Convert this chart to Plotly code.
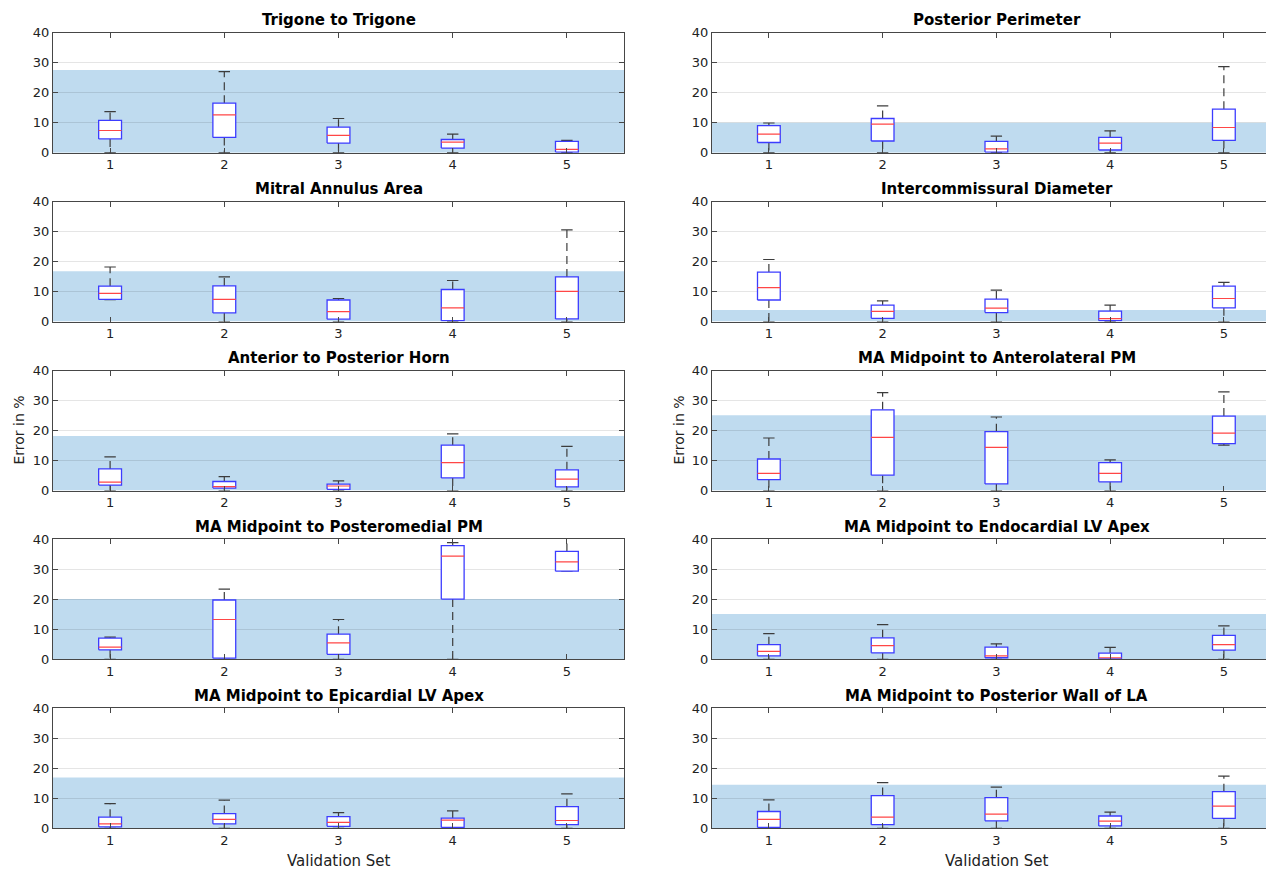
import plotly.graph_objects as go

# The page body has an 8px margin, so the figure is drawn 8px smaller and
# every reference pixel position is shifted by that offset.
OFF = 8
W, H = 1274 - OFF, 869 - OFF

sets = [1, 2, 3, 4, 5]
titles = [
    "Trigone to Trigone", "Posterior Perimeter",
    "Mitral Annulus Area", "Intercommissural Diameter",
    "Anterior to Posterior Horn", "MA Midpoint to Anterolateral PM",
    "MA Midpoint to Posteromedial PM", "MA Midpoint to Endocardial LV Apex",
    "MA Midpoint to Epicardial LV Apex", "MA Midpoint to Posterior Wall of LA",
]
band_top = [27.6, 10.0, 16.8, 3.9, 18.2, 25.1, 20.1, 15.1, 16.9, 14.5]
q1 = [
    [4.6, 5.1, 3.2, 1.55, 0.2],
    [3.4, 3.9, 0.2, 0.9, 4.1],
    [7.4, 2.9, 0.8, 0.3, 0.9],
    [7.2, 1.1, 3.0, 0.3, 4.6],
    [1.8, 0.8, 0.4, 4.2, 1.2],
    [3.6, 5.1, 2.2, 2.9, 15.6],
    [3.2, 0.4, 1.7, 20.1, 29.4],
    [1.2, 2.2, 0.55, 0.2, 3.1],
    [0.5, 1.5, 0.65, 0.3, 1.2],
    [0.3, 1.2, 2.5, 0.8, 3.3],
]
median = [
    [7.4, 12.6, 5.8, 3.5, 1.1],
    [6.2, 9.5, 1.3, 3.2, 8.4],
    [9.4, 7.4, 3.3, 4.6, 10.1],
    [11.3, 3.4, 4.5, 1.0, 7.7],
    [2.8, 1.3, 1.5, 9.3, 3.8],
    [5.7, 17.7, 14.4, 5.7, 19.1],
    [4.1, 13.3, 5.5, 34.4, 32.5],
    [2.65, 4.6, 1.2, 0.55, 4.9],
    [1.5, 2.95, 2.0, 2.7, 2.6],
    [3.0, 3.7, 4.7, 2.4, 7.4],
]
q3 = [
    [10.75, 16.5, 8.5, 4.4, 3.8],
    [9.0, 11.4, 3.8, 5.1, 14.5],
    [11.8, 11.9, 7.2, 10.7, 14.9],
    [16.5, 5.5, 7.5, 3.5, 11.8],
    [7.2, 3.0, 2.1, 15.1, 6.9],
    [10.5, 26.9, 19.6, 9.3, 24.8],
    [7.1, 19.8, 8.4, 37.9, 36.0],
    [4.9, 7.2, 4.1, 2.1, 8.0],
    [3.7, 4.9, 3.9, 3.4, 7.2],
    [5.6, 10.9, 10.2, 4.1, 12.2],
]
whisk_hi = [
    [13.7, 27.0, 11.4, 6.2, 4.1],
    [9.9, 15.6, 5.5, 7.3, 28.7],
    [18.2, 14.9, 7.7, 13.7, 30.6],
    [20.7, 6.9, 10.5, 5.5, 13.1],
    [11.2, 4.6, 3.2, 18.9, 14.7],
    [17.5, 32.6, 24.5, 10.2, 32.9],
    [7.4, 23.4, 13.3, 38.9, 42.0],
    [8.6, 11.6, 5.2, 4.0, 11.2],
    [8.2, 9.4, 5.2, 5.8, 11.5],
    [9.5, 15.2, 13.7, 5.4, 17.4],
]
whisk_lo = [
    [0.0, 0.0, 0.0, 0.0, 0.0],
    [0.0, 0.0, 0.0, 0.0, 0.0],
    [7.3, 0.0, 0.0, 0.0, 0.0],
    [0.0, 0.0, 0.0, 0.0, 0.0],
    [0.0, 0.0, 0.0, 0.0, 0.0],
    [0.0, 0.0, 0.0, 0.0, 15.1],
    [0.0, 0.0, 0.0, 0.0, 29.4],
    [0.0, 0.0, 0.0, 0.0, 0.0],
    [0.0, 0.0, 0.0, 0.0, 0.0],
    [0.0, 0.0, 0.0, 0.0, 0.0],
]
y_ticks = [0, 10, 20, 30, 40]

FONT = "DejaVu Sans"
BOX_W = 0.1
CAP_W = 0.05
BLUE = "rgb(60,60,255)"
RED = "rgb(255,70,70)"
DARK = "rgb(60,60,60)"
BAND = "rgb(191,219,239)"
AX = "rgb(70,70,70)"


def px(v):
    return v / W


def py(v):
    return 1 - v / H


# layout in reference pixels, shifted by the body offset
col_x = [(53 - OFF, 624 - OFF), (712 - OFF, 1274 - OFF)]
col_range = [[0.5, 5.5], [0.5, 0.5 + (1274 - 712) / 113.75]]
col_center = [(53 + 624) / 2 - OFF, (712 + 1281) / 2 - OFF]
row_top0, row_step, row_h = 32.7 - OFF, 168.9, 120.0

fig = go.Figure()
layout = {}
annotations = []
shapes = []

for i, title in enumerate(titles):
    r, c = divmod(i, 2)
    n = i + 1
    xs = "x" if n == 1 else f"x{n}"
    ys = "y" if n == 1 else f"y{n}"
    top = row_top0 + r * row_step
    bot = top + row_h
    x0p, x1p = col_x[c]
    dom_x = [px(x0p), min(px(x1p), 1.0)]
    dom_y = [py(bot), py(top)]

    layout["xaxis" if n == 1 else f"xaxis{n}"] = dict(
        domain=dom_x, anchor=ys, range=col_range[c], automargin=False,
        tickvals=sets, ticktext=[str(s) for s in sets],
        ticks="inside", ticklen=5, tickcolor=AX,
        showline=True, linecolor=AX, linewidth=1, mirror="ticks",
        showgrid=False, zeroline=False,
        tickfont=dict(family=FONT, size=13, color="#222"),
    )
    layout["yaxis" if n == 1 else f"yaxis{n}"] = dict(
        domain=dom_y, anchor=xs, range=[0, 40], automargin=False,
        tickvals=y_ticks, ticks="inside", ticklen=5, tickcolor=AX,
        showline=True, linecolor=AX, linewidth=1,
        mirror="ticks" if c == 0 else False,
        showgrid=True, gridcolor="rgba(0,0,0,0.1)", gridwidth=1,
        zeroline=False,
        tickfont=dict(family=FONT, size=13, color="#222"),
    )

    shapes.append(dict(
        type="rect", xref=f"{xs} domain", yref=ys, x0=0, x1=1,
        y0=0, y1=band_top[i], fillcolor=BAND, line=dict(width=0),
        layer="below",
    ))

    wx, wy, bx, by, mx, my, cx, cy = [], [], [], [], [], [], [], []
    for k, s in enumerate(sets):
        lo, a, m, b, hi = whisk_lo[i][k], q1[i][k], median[i][k], q3[i][k], whisk_hi[i][k]
        wx += [s, s, None, s, s, None]
        wy += [b, hi, None, a, lo, None]
        bx += [s - BOX_W, s + BOX_W, s + BOX_W, s - BOX_W, s - BOX_W, None]
        by += [a, a, b, b, a, None]
        mx += [s - BOX_W, s + BOX_W, None]
        my += [m, m, None]
        cx += [s - CAP_W, s + CAP_W, None, s - CAP_W, s + CAP_W, None]
        cy += [hi, hi, None, lo, lo, None]

    common = dict(xaxis=xs, yaxis=ys, mode="lines", showlegend=False, hoverinfo="skip")
    fig.add_trace(go.Scatter(x=wx, y=wy, line=dict(color=DARK, width=1.2, dash="8px,5px"), **common))
    fig.add_trace(go.Scatter(x=cx, y=cy, line=dict(color=DARK, width=1.2), **common))
    fig.add_trace(go.Scatter(x=bx, y=by, fill="toself", fillcolor="white",
                             line=dict(color=BLUE, width=1.3), **common))
    fig.add_trace(go.Scatter(x=mx, y=my, line=dict(color=RED, width=1.2), **common))

    annotations.append(dict(
        text=f"<b>{title}</b>", xref="paper", yref="paper",
        x=px(col_center[c]), y=py(top - 12.5), showarrow=False,
        xanchor="center", yanchor="middle",
        font=dict(family=FONT, size=15, color="#000"),
    ))

# axis labels
for xc in [18 - OFF, 678 - OFF]:
    annotations.append(dict(
        text="Error in %", xref="paper", yref="paper",
        x=px(xc), y=py(row_top0 + 2 * row_step + row_h / 2),
        showarrow=False, textangle=-90, xanchor="center", yanchor="middle",
        font=dict(family=FONT, size=14, color="#222"),
    ))
for xc in col_center:
    annotations.append(dict(
        text="Validation Set", xref="paper", yref="paper",
        x=px(xc), y=py(861 - OFF), showarrow=False,
        xanchor="center", yanchor="middle",
        font=dict(family=FONT, size=15, color="#222"),
    ))

fig.update_layout(
    template="none",
    width=W, height=H, margin=dict(l=0, r=0, t=0, b=0, pad=0, autoexpand=False),
    paper_bgcolor="white", plot_bgcolor="white",
    showlegend=False, annotations=annotations, shapes=shapes,
    **layout,
)

fig.write_html("out.html")
